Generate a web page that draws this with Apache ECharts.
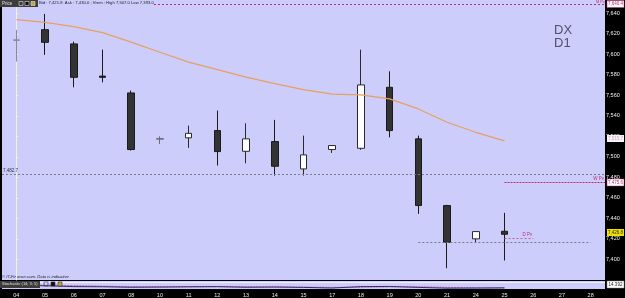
<!DOCTYPE html>
<html><head><meta charset="utf-8">
<script src="https://cdn.jsdelivr.net/npm/echarts@6/dist/echarts.min.js"></script>
<style>html,body{margin:0;padding:0;background:#000}#c{width:625px;height:298px}</style>
</head><body><div id="c"></div>
<script>
// ---- data ----
const categories = ['04','05','06','07','08','10','11','12','13','14','15','17','18','19','20','21','24','25','26','27','28'];
const opens  = [7614.2,7624.1,7610.2,7578.8,7562.4,7517.9,7518.6,7525.7,7505.5,7515.0,7488.3,7507.2,7508.4,7567.9,7517.6,7452.6,7420.1,7427.5,null,null,null];
const closes = [7613.6,7611.7,7577.6,7577.6,7507.2,7517.3,7523.0,7505.2,7517.6,7490.9,7502.0,7511.1,7570.2,7525.7,7452.6,7416.8,7427.2,7424.6,null,null,null];
const lows   = [7592.9,7599.5,7567.9,7572.7,7506.2,7512.7,7508.8,7491.6,7493.8,7481.8,7481.8,7503.9,7506.9,7519.1,7444.5,7391.5,7416.8,7399.0,null,null,null];
const highs  = [7623.8,7639.4,7612.4,7604.6,7564.7,7520.1,7530.5,7545.2,7532.8,7536.1,7520.8,7511.6,7604.6,7583.5,7520.8,7453.3,7427.6,7445.5,null,null,null];
const maValues = [7633.9,7631.2,7627.0,7621.2,7611.9,7602.1,7592.4,7585.1,7577.8,7571.5,7565.6,7561.2,7560.5,7556.6,7546.8,7533.8,7524.0,7515.7,null,null,null];
const stochK = [45,40,30,28,22,25,28,30,22,25,20,12,30,32,20,10,12,14.4,null,null,null];
const stochD = [50,48,42,35,28,25,26,28,27,25,23,20,22,26,28,20,14,12,null,null,null];
const greyCandles = ['04','10'];
const refLevel = 7482.7, prevLow = 7416.5, wPivot = 7475.6, dPivot = 7421.0, mPivotPos = 7649;
const labels = {mPivot:'7,640.4', ma:'7,515.7', wPivot:'7,475.6', last:'7,426.8', stoch:'14.392', ref:'7,482.7'};

const BG = '#CDCDFB';
const FONT = 'Liberation Sans';
const chart = echarts.init(document.getElementById('c'));
const candleData = categories.map((c,i)=>{
  if (opens[i]==null) return '-';
  const v=[opens[i],closes[i],lows[i],highs[i]];
  if (greyCandles.includes(c)) {
    const g = c==='04' ? '#8a8a96' : '#6a6a78';
    return {value:v, itemStyle:{color:'#e4e4f0',color0:'#e4e4f0',borderColor:g,borderColor0:g}};
  }
  return v;
});
const nCat = categories.length;
const idx = c => categories.indexOf(c);
function hl(x0,x1,y,color,type,width,label){
  return [{coord:[x0,y],lineStyle:{color:color,type:type,width:width},label:label||{show:false}},{coord:[x1,y]}];
}
const pink = '#B8306E';
const option = {
  backgroundColor:'#000',
  animation:false,
  grid:[
    {left:2,right:20,top:0,height:280,show:true,backgroundColor:BG,borderWidth:0},
    {left:2,right:20,top:281,height:8,show:true,backgroundColor:BG,borderWidth:0}
  ],
  xAxis:[
    {type:'category',data:categories,gridIndex:0,axisLine:{show:false},axisTick:{show:false},axisLabel:{show:false},splitLine:{show:false}},
    {type:'value',gridIndex:0,min:-0.5,max:nCat-0.5,show:false},
    {type:'category',data:categories,gridIndex:1,axisLine:{show:false},axisTick:{show:false},
     axisLabel:{color:'#e8e8e8',fontSize:5.5,margin:3,fontFamily:FONT,interval:0}}
  ],
  yAxis:[
    {type:'value',gridIndex:0,position:'right',min:7380,max:7653,interval:20,
     axisLine:{show:true,lineStyle:{color:'#f0f0f0',width:1}},
     axisTick:{show:true,length:2,lineStyle:{color:'#f0f0f0'}},
     axisLabel:{color:'#f0f0f0',fontSize:5.5,margin:1,fontFamily:FONT,showMinLabel:false,showMaxLabel:false,
       formatter:v=>v.toLocaleString('en-US')},
     splitLine:{show:false}},
    {type:'value',gridIndex:1,min:0,max:100,show:false}
  ],
  series:[
    {type:'candlestick',xAxisIndex:0,yAxisIndex:0,data:candleData,barWidth:7,
     itemStyle:{color:'#ffffff',color0:'#333333',borderColor:'#2a2a2a',borderColor0:'#1a1a1a',borderWidth:1}},
    {type:'line',xAxisIndex:0,yAxisIndex:0,data:maValues,symbol:'none',lineStyle:{color:'#E6A060',width:1.2},z:3},
    {type:'line',xAxisIndex:1,yAxisIndex:0,data:[],symbol:'none',
     markLine:{silent:true,symbol:'none',animation:false,
      data:[
        hl(-0.5,nCat-0.5,refLevel,'#7a7a8a',[2,2],1,{show:true,formatter:labels.ref,position:'insideStartTop',distance:1,color:'#333',fontSize:4.5,fontFamily:FONT}),
        hl(idx('20'),idx('28'),prevLow,'#7a7a8a',[2,2],1),
        hl(idx('25'),nCat-0.5,wPivot,pink,[2,1],1,{show:true,formatter:'W Pv',position:'insideEndTop',distance:1,color:pink,fontSize:4.5,fontFamily:FONT}),
        hl(idx('25'),idx('26'),dPivot,'#C0609A',[2,2],1,{show:true,formatter:'D Pv',position:'insideEndTop',distance:1,color:pink,fontSize:4.5,fontFamily:FONT}),
        hl(-0.5,nCat-0.5,mPivotPos,pink,[2,2],1,{show:true,formatter:'M Pv',position:'insideEndTop',distance:0,color:pink,fontSize:4,fontFamily:FONT})
      ]}},
    {type:'line',xAxisIndex:2,yAxisIndex:1,data:stochD,symbol:'none',lineStyle:{color:'#C05A94',width:1,type:[2,1]},
     markLine:{silent:true,symbol:'none',label:{show:false},lineStyle:{color:'#EEEEFF',type:'solid',width:1},data:[{yAxis:80}]}},
    {type:'line',xAxisIndex:2,yAxisIndex:1,data:stochK,symbol:'none',lineStyle:{color:'#3a2a6a',width:1}}
  ],
  graphic:[
    {type:'rect',shape:{x:38,y:0,width:116,height:7},style:{fill:BG},z:10},
    {type:'text',x:39,y:1.2,style:{text:'Bid : 7,421.8  Ask : 7,430.0 ; Vrem : High 7,507.0 Low 7,393.0',fontSize:4.2,fontFamily:FONT,fill:'#222'},z:11},
    {type:'rect',shape:{x:0,y:0,width:38,height:7},style:{fill:'#3c3c3c'},z:10},
    {type:'text',x:2,y:1.3,style:{text:'Price',fontSize:4.5,fontFamily:FONT,fill:'#e0e0e0'},z:11},
    {type:'rect',shape:{x:19,y:1.5,width:4,height:4},style:{fill:'none',stroke:'#ddd',lineWidth:0.6},z:11},
    {type:'rect',shape:{x:25,y:1.5,width:4,height:4},style:{fill:'#111',stroke:'#ddd',lineWidth:0.6},z:11},
    {type:'rect',shape:{x:31,y:1.5,width:4,height:4},style:{fill:'#c8a040',stroke:'#ddd',lineWidth:0.6},z:11},
    {type:'text',x:554,y:24,style:{text:'DX',fontSize:13,fontFamily:FONT,fill:'#50506A'}},
    {type:'text',x:554,y:37,style:{text:'D1',fontSize:13,fontFamily:FONT,fill:'#50506A'}},
    {type:'text',x:2,y:274.5,style:{text:'© IT-Finance.com. Data is indicative',fontSize:4.2,fontStyle:'italic',fontFamily:FONT,fill:'#222'}},
    {type:'rect',shape:{x:0,y:281,width:40,height:7},style:{fill:'#3c3c3c'},z:10},
    {type:'text',x:2,y:282.3,style:{text:'Stochastic (14; 3; 5)',fontSize:4,fontFamily:FONT,fill:'#e0e0e0'},z:11},
    {type:'rect',shape:{x:44,y:282,width:4,height:4},style:{fill:'none',stroke:'#333',lineWidth:0.6},z:11},
    {type:'rect',shape:{x:51,y:282,width:4,height:4},style:{fill:'#111',stroke:'#333',lineWidth:0.6},z:11},
    {type:'rect',shape:{x:58,y:282,width:4,height:4},style:{fill:'#c8a040',stroke:'#333',lineWidth:0.6},z:11},
    // right side value tags
    {type:'rect',shape:{x:607,y:0.5,width:17,height:7},style:{fill:'#fff',stroke:pink,lineWidth:0.5},z:10},
    {type:'text',x:615.5,y:1.5,style:{text:labels.mPivot,fontSize:4.5,fontFamily:FONT,fill:pink,align:'center'},z:11},
    {type:'rect',shape:{x:607,y:135,width:17,height:7},style:{fill:'#F6F2F8'},z:10},
    {type:'text',x:615.5,y:136.2,style:{text:labels.ma,fontSize:4.5,fontFamily:FONT,fill:'#D0A8B8',align:'center'},z:11},
    {type:'rect',shape:{x:607,y:179,width:17,height:7},style:{fill:'#fff',stroke:pink,lineWidth:0.5},z:10},
    {type:'text',x:615.5,y:180.2,style:{text:labels.wPivot,fontSize:4.5,fontFamily:FONT,fill:pink,align:'center'},z:11},
    {type:'rect',shape:{x:607,y:229,width:17,height:7},style:{fill:'#F2E000'},z:10},
    {type:'text',x:615.5,y:230.2,style:{text:labels.last,fontSize:4.5,fontFamily:FONT,fill:'#222',align:'center'},z:11},
    {type:'rect',shape:{x:607,y:281,width:17,height:7},style:{fill:'#fff',stroke:'#888',lineWidth:0.5},z:10},
    {type:'text',x:615.5,y:282.2,style:{text:labels.stoch,fontSize:4.5,fontFamily:FONT,fill:'#222',align:'center'},z:11}
  ]
};
chart.setOption(option);
</script></body></html>
